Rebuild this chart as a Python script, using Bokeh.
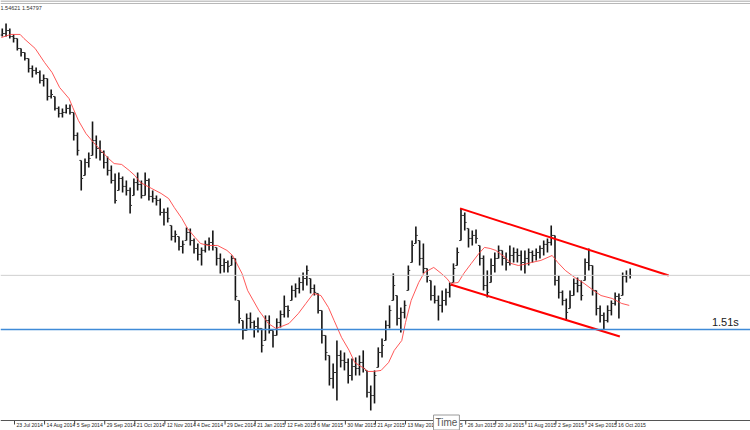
import numpy as np
from bokeh.plotting import figure
from bokeh.models import Range1d, Span, Label
from bokeh.core.properties import value
from bokeh.embed import file_html
from bokeh.resources import INLINE

# ---- GBPUSD-like daily bars, aggregated to 2-day bars (index k -> trading days 2k, 2k+1; day 0 = 14 Jul 2014)
high = [
    1.7114, 1.7147, 1.7114, 1.7074, 1.7047, 1.6980, 1.6953, 1.6913, 1.6866, 1.6853,
    1.6833, 1.6806, 1.6779, 1.6706, 1.6659, 1.6592, 1.6579, 1.6605, 1.6605, 1.6552,
    1.6418, 1.6231, 1.6244, 1.6284, 1.6492, 1.6398, 1.6364, 1.6298, 1.6257, 1.6197,
    1.6144, 1.6150, 1.6124, 1.6097, 1.6050, 1.6110, 1.6150, 1.6097, 1.6150, 1.6110,
    1.6030, 1.5996, 1.5976, 1.5910, 1.5916, 1.5796, 1.5762, 1.5722, 1.5695, 1.5782,
    1.5776, 1.5709, 1.5675, 1.5649, 1.5695, 1.5716, 1.5762, 1.5649, 1.5608, 1.5575,
    1.5562, 1.5595, 1.5575, 1.5294, 1.5160, 1.5207, 1.5214, 1.5160, 1.5180, 1.5107,
    1.5194, 1.5194, 1.5093, 1.5174, 1.5227, 1.5327, 1.5261, 1.5394, 1.5408, 1.5448,
    1.5481, 1.5528, 1.5441, 1.5401, 1.5341, 1.5227, 1.5060, 1.4926, 1.4873, 1.5026,
    1.4960, 1.4946, 1.4906, 1.4906, 1.4913, 1.4926, 1.4960, 1.4826, 1.4725, 1.4826,
    1.4980, 1.5040, 1.5160, 1.5261, 1.5475, 1.5327, 1.5247, 1.5294, 1.5528, 1.5695,
    1.5789, 1.5695, 1.5675, 1.5508, 1.5428, 1.5394, 1.5327, 1.5361, 1.5374, 1.5414,
    1.5542, 1.5649, 1.5910, 1.5883, 1.5776, 1.5762, 1.5769, 1.5662, 1.5595, 1.5495,
    1.5575, 1.5615, 1.5662, 1.5629, 1.5615, 1.5662, 1.5649, 1.5642, 1.5629, 1.5629,
    1.5642, 1.5629, 1.5642, 1.5662, 1.5695, 1.5709, 1.5796, 1.5729, 1.5461, 1.5361,
    1.5307, 1.5361, 1.5441, 1.5448, 1.5428, 1.5575, 1.5642, 1.5528, 1.5361, 1.5261,
    1.5214, 1.5261, 1.5294, 1.5348, 1.5341, 1.5481, 1.5495, 1.5508]

low = [
    1.7060, 1.7060, 1.7047, 1.7020, 1.6967, 1.6926, 1.6900, 1.6819, 1.6786, 1.6806,
    1.6746, 1.6726, 1.6632, 1.6645, 1.6565, 1.6518, 1.6518, 1.6545, 1.6538, 1.6364,
    1.6264, 1.6030, 1.6130, 1.6184, 1.6264, 1.6244, 1.6231, 1.6177, 1.6130, 1.6077,
    1.5943, 1.6030, 1.6017, 1.5996, 1.5876, 1.5996, 1.6030, 1.5976, 1.5996, 1.5963,
    1.5950, 1.5930, 1.5863, 1.5796, 1.5816, 1.5695, 1.5682, 1.5629, 1.5608, 1.5695,
    1.5662, 1.5608, 1.5562, 1.5528, 1.5615, 1.5629, 1.5629, 1.5528, 1.5475, 1.5481,
    1.5481, 1.5528, 1.5294, 1.5140, 1.5033, 1.5093, 1.5107, 1.5046, 1.5080, 1.4946,
    1.5026, 1.5073, 1.4980, 1.5060, 1.5113, 1.5180, 1.5180, 1.5294, 1.5314, 1.5341,
    1.5361, 1.5394, 1.5341, 1.5327, 1.5207, 1.5006, 1.4893, 1.4725, 1.4705, 1.4625,
    1.4846, 1.4826, 1.4739, 1.4759, 1.4792, 1.4792, 1.4812, 1.4645, 1.4558, 1.4605,
    1.4846, 1.4913, 1.5026, 1.5107, 1.5294, 1.5127, 1.5080, 1.5174, 1.5361, 1.5548,
    1.5675, 1.5528, 1.5475, 1.5414, 1.5294, 1.5274, 1.5160, 1.5214, 1.5261, 1.5314,
    1.5414, 1.5528, 1.5695, 1.5762, 1.5649, 1.5662, 1.5675, 1.5528, 1.5361, 1.5314,
    1.5414, 1.5481, 1.5575, 1.5528, 1.5495, 1.5528, 1.5548, 1.5548, 1.5495, 1.5475,
    1.5528, 1.5548, 1.5562, 1.5575, 1.5595, 1.5615, 1.5662, 1.5394, 1.5307, 1.5261,
    1.5160, 1.5240, 1.5327, 1.5348, 1.5294, 1.5428, 1.5495, 1.5327, 1.5194, 1.5147,
    1.5100, 1.5147, 1.5194, 1.5261, 1.5174, 1.5327, 1.5414, 1.5441]

close = [
    1.7080, 1.7100, 1.7060, 1.7047, 1.6980, 1.6953, 1.6913, 1.6846, 1.6833, 1.6819,
    1.6766, 1.6779, 1.6659, 1.6672, 1.6579, 1.6545, 1.6552, 1.6579, 1.6552, 1.6398,
    1.6298, 1.6110, 1.6217, 1.6244, 1.6364, 1.6311, 1.6284, 1.6217, 1.6164, 1.6097,
    1.5963, 1.6110, 1.6057, 1.6030, 1.5930, 1.6083, 1.6070, 1.5996, 1.6097, 1.5990,
    1.5976, 1.5963, 1.5883, 1.5883, 1.5843, 1.5722, 1.5736, 1.5655, 1.5669, 1.5749,
    1.5695, 1.5642, 1.5602, 1.5629, 1.5669, 1.5682, 1.5662, 1.5575, 1.5528, 1.5548,
    1.5521, 1.5575, 1.5321, 1.5174, 1.5093, 1.5174, 1.5147, 1.5120, 1.5107, 1.4993,
    1.5160, 1.5093, 1.5060, 1.5147, 1.5200, 1.5254, 1.5227, 1.5361, 1.5374, 1.5414,
    1.5441, 1.5495, 1.5374, 1.5348, 1.5227, 1.5060, 1.4946, 1.4772, 1.4812, 1.4926,
    1.4893, 1.4879, 1.4792, 1.4852, 1.4839, 1.4879, 1.4839, 1.4679, 1.4658, 1.4792,
    1.4946, 1.4993, 1.5127, 1.5227, 1.5394, 1.5174, 1.5214, 1.5261, 1.5495, 1.5662,
    1.5729, 1.5575, 1.5508, 1.5455, 1.5327, 1.5294, 1.5261, 1.5294, 1.5348, 1.5394,
    1.5508, 1.5615, 1.5863, 1.5816, 1.5709, 1.5729, 1.5709, 1.5575, 1.5394, 1.5348,
    1.5528, 1.5575, 1.5629, 1.5575, 1.5548, 1.5595, 1.5615, 1.5595, 1.5548, 1.5575,
    1.5615, 1.5595, 1.5615, 1.5642, 1.5669, 1.5682, 1.5729, 1.5428, 1.5348, 1.5294,
    1.5214, 1.5327, 1.5408, 1.5394, 1.5327, 1.5548, 1.5528, 1.5361, 1.5240, 1.5194,
    1.5160, 1.5227, 1.5274, 1.5321, 1.5307, 1.5455, 1.5461, 1.5462]

first_open = 1.7070

# Moving average (red): trading-day index, value
ma_day = [0, 5, 10, 12, 18, 23, 27, 31, 36, 38, 41, 45, 49, 53, 57, 60, 64, 68, 71, 74,
          80, 85, 89, 92, 96, 99, 103, 106, 110, 115, 120, 123, 128, 131, 137, 142, 146, 149,
          153, 158, 162, 166, 170, 174, 177, 181, 185, 188, 193, 195, 198, 202, 206, 209,
          213, 215, 218, 222, 225, 230, 234, 237, 239, 243, 246, 250, 254, 257, 260, 263,
          268, 271, 275, 278, 282, 287, 293, 296, 300, 305, 310, 315, 319, 325, 330, 334]
ma_val = [1.7053, 1.7074, 1.7074, 1.7047, 1.6980, 1.6886, 1.6819, 1.6719, 1.6645, 1.6585,
          1.6498, 1.6411, 1.6351, 1.6298, 1.6244, 1.6210, 1.6204, 1.6164, 1.6130, 1.6083,
          1.6043, 1.6010, 1.5976, 1.5916, 1.5843, 1.5776, 1.5716, 1.5675, 1.5662, 1.5662,
          1.5629, 1.5595, 1.5475, 1.5361, 1.5227, 1.5140, 1.5107, 1.5120, 1.5140, 1.5207,
          1.5274, 1.5341, 1.5327, 1.5247, 1.5160, 1.5046, 1.4960, 1.4879, 1.4839, 1.4819,
          1.4819, 1.4826, 1.4879, 1.4960, 1.5026, 1.5147, 1.5294, 1.5414, 1.5481, 1.5515,
          1.5475, 1.5441, 1.5408, 1.5414, 1.5475, 1.5542, 1.5608, 1.5649, 1.5642, 1.5629,
          1.5582, 1.5542, 1.5528, 1.5535, 1.5548, 1.5562, 1.5595, 1.5548, 1.5495, 1.5448,
          1.5408, 1.5361, 1.5327, 1.5307, 1.5274, 1.5261]

# Channel trend lines (day index, price)
upper_day = [244, 355]
upper_val = [1.5910, 1.5461]
lower_day = [239, 329]
lower_val = [1.5401, 1.5053]

support_level = 1.51
support_text = "1.51s"
current_bid = 1.54621
current_ask = 1.54797

tick_days = [7 + 16 * i for i in range(21)]
tick_labels = ["23 Jul 2014", "14 Aug 2014", "5 Sep 2014", "29 Sep 2014", "21 Oct 2014",
               "12 Nov 2014", "4 Dec 2014", "29 Dec 2014", "21 Jan 2015", "12 Feb 2015",
               "6 Mar 2015", "30 Mar 2015", "21 Apr 2015", "13 May 2015", "4 Jun 2015",
               "26 Jun 2015", "20 Jul 2015", "11 Aug 2015", "2 Sep 2015", "24 Sep 2015",
               "16 Oct 2015"]

# ---- layout constants
W, H = 750, 430
X0, X1 = -0.45, 398.5
Y1 = 1.7301
Y0 = 1.4424
PX = (Y1 - Y0) / H          # price per screen pixel
AXIS_Y = Y1 - 420 * PX      # time-scale baseline (MT4 style, drawn inside the canvas)

# ---- build
n = len(high)
x = 2 * np.arange(n) + 0.5
hi = np.array(high)
lo = np.array(low)
cl = np.array(close)
op = np.clip(np.array([first_open] + close[:-1]), lo, hi)

p = figure(width=W, height=H, output_backend="svg", toolbar_location=None,
           x_range=Range1d(X0, X1), y_range=Range1d(Y0, Y1),
           x_axis_location=None, y_axis_location=None,
           min_border_left=0, min_border_right=0, min_border_top=0, min_border_bottom=0)
p.outline_line_color = None
p.xgrid.visible = False
p.ygrid.visible = False
p.background_fill_color = "white"
p.border_fill_color = "white"

# window border at the top
p.add_layout(Span(location=Y1 - 0.5 * PX, dimension="width", line_color="#8C8C8C", line_width=1))
p.add_layout(Span(location=Y1 - 3 * PX, dimension="width", line_color="#B8B8B8", line_width=1))

p.add_layout(Span(location=current_bid, dimension="width", line_color="#CFCFCF", line_width=1))
p.add_layout(Span(location=support_level, dimension="width", line_color="#3F8BD8", line_width=1.5))

p.segment(x, lo, x, hi, line_color="#151515", line_width=1.6)
p.segment(x - 1.0, op, x, op, line_color="#333333", line_width=1)
p.segment(x, cl, x + 1.0, cl, line_color="#333333", line_width=1)

p.line(ma_day, ma_val, line_color="#FF3B3B", line_width=1, line_alpha=0.85)
p.line(upper_day, upper_val, line_color="#FF0000", line_width=2)
p.line(lower_day, lower_val, line_color="#FF0000", line_width=2)

p.add_layout(Label(x=392.3, y=support_level + 0.0012, text=support_text,
                   text_align="right", text_baseline="bottom", text_font_size="11px",
                   text_font="Liberation Sans", text_color="#202020"))
p.add_layout(Label(x=X0, y=Y1, text=f"{current_bid:.5f} {current_ask:.5f}",
                   text_align="left", text_baseline="top", text_font_size="5.5px",
                   text_font="Liberation Sans", text_color="#333333", y_offset=-4))

# time scale (MT4-style): baseline, tick marks and left-aligned date labels
p.add_layout(Span(location=AXIS_Y, dimension="width", line_color="#555555", line_width=1))
p.segment(tick_days, [AXIS_Y] * len(tick_days), tick_days, [AXIS_Y - 4 * PX] * len(tick_days),
          line_color="#444444", line_width=1)
p.text(x=tick_days, y=[AXIS_Y - 1.5 * PX] * len(tick_days), text=tick_labels,
       x_offset=2, text_align="left", text_baseline="top", text_font_size="5.1px",
       text_font=value("Liberation Sans"), text_color="#222222")

p.add_layout(Label(x=229.9, y=Y1 - 429.5 * PX, text="Time", text_align="left",
                   text_baseline="bottom", text_font_size="10px", text_font="Liberation Sans",
                   text_color="#555555", background_fill_color="white",
                   border_line_color="#9A9A9A", padding=2))

open("out.html", "w").write(file_html(p, INLINE))
